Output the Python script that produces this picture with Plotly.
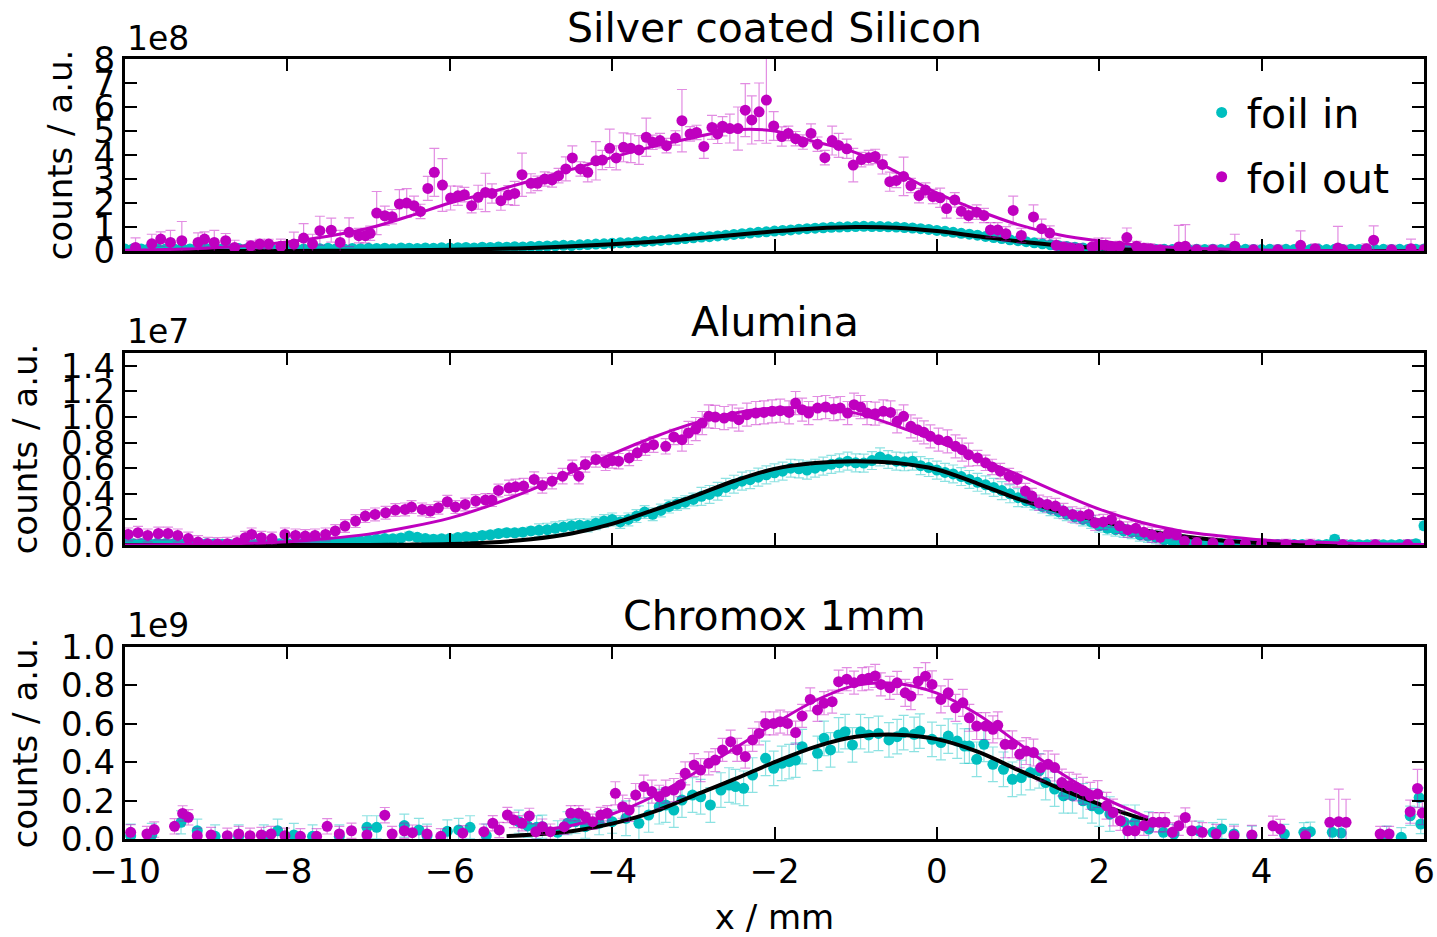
import plotly.graph_objects as go

# ---------------- Panel 1: Silver coated Silicon (units 1e8) ----------------
p1_out_x = [-9.87, -9.67, -9.56, -9.44, -9.3, -9.1, -9.02, -8.9, -8.76, -8.65, -8.45, -8.34, -8.23, -8.08,
            -7.92, -7.8, -7.69, -7.6, -7.46, -7.35, -7.24, -7.12, -7.04, -6.98, -6.9, -6.8, -6.71, -6.62,
            -6.53, -6.44, -6.36, -6.27, -6.19, -6.09, -5.99, -5.9, -5.82, -5.73, -5.65, -5.56, -5.48, -5.37,
            -5.28, -5.2, -5.11, -5.0, -4.92, -4.83, -4.74, -4.66, -4.57, -4.49, -4.39, -4.3, -4.2, -4.12,
            -4.03, -3.95, -3.86, -3.77, -3.67, -3.58, -3.5, -3.41, -3.33, -3.22, -3.14, -3.04, -2.96, -2.87,
            -2.77, -2.7, -2.64, -2.55, -2.45, -2.36, -2.28, -2.19, -2.1, -2.01, -1.91, -1.83, -1.74, -1.65,
            -1.55, -1.47, -1.38, -1.29, -1.21, -1.11, -1.03, -0.93, -0.84, -0.76, -0.67, -0.58, -0.5, -0.41,
            -0.32, -0.22, -0.14, -0.05, 0.04, 0.12, 0.22, 0.3, 0.39, 0.49, 0.58, 0.66, 0.75, 0.85, 0.94,
            1.04, 1.19, 1.29, 1.39, 1.47, 1.56, 1.65, 1.75, 1.91, 1.99, 2.08, 2.15, 2.25, 2.34, 2.46, 2.55,
            2.63, 2.75, 2.98, 3.06, 3.2, 3.4, 3.67, 3.9, 4.2, 4.48, 4.66, 4.94, 5.0, 5.29, 5.38, 5.6, 5.84, 6.0]
p1_out_y = [0.15, 0.3, 0.5, 0.36, 0.43, 0.36, 0.5, 0.36, 0.43, 0.15, 0.22, 0.29, 0.29, 0.2,
            0.29, 0.54, 0.3, 0.85, 0.87, 0.36, 0.78, 0.64, 0.64, 0.74, 1.58, 1.47, 1.43, 1.96,
            2.0, 1.89, 1.65, 2.61, 3.28, 2.75, 2.21, 2.3, 2.35, 1.89, 2.24, 2.44, 2.4, 2.1,
            2.33, 2.4, 3.18, 2.82, 2.82, 3.0, 2.96, 3.14, 3.42, 3.88, 3.42, 3.28, 3.76, 3.79,
            4.28, 3.88, 4.32, 4.28, 4.21, 4.74, 4.53, 4.6, 4.39, 4.71, 5.43, 4.88, 4.94, 4.36,
            5.15, 4.88, 5.2, 5.1, 5.1, 5.87, 5.46, 5.8, 6.29, 5.21, 4.77, 4.9, 4.68, 4.54,
            4.9, 4.45, 3.89, 4.6, 4.4, 4.26, 3.58, 3.81, 3.89, 3.94, 3.61, 2.89, 2.94, 3.11,
            2.73, 2.31, 2.54, 2.27, 2.22, 1.77, 2.13, 1.66, 1.48, 1.62, 1.48, 0.88, 0.88, 0.72, 1.69,
            0.65, 1.42, 0.93, 0.75, 0.24, 0.17, 0.13, 0.1, 0.17, 0.24, 0.24, 0.15, 0.2, 0.56, 0.2, 0.12,
            0.1, 0.05, 0.17, 0.2, 0.05, 0.05, 0.2, 0.05, 0.05, 0.24, 0.1, 0.13, 0.05, 0.1, 0.45, 0.05, 0.1, 0.05]
p1_out_err = [0.4, 0.4, 0.3, 0.5, 0.8, 0.4, 0.3, 0.5, 0.3, 0.3, 0.2, 0.2, 0.2, 0.3,
              0.5, 0.6, 0.4, 0.6, 0.5, 0.5, 0.6, 0.3, 0.3, 0.3, 0.9, 0.4, 0.3, 0.6,
              0.6, 0.4, 0.3, 0.5, 1.0, 1.1, 0.5, 0.4, 0.3, 0.3, 0.5, 0.8, 0.4, 0.4,
              0.4, 0.5, 0.9, 0.4, 0.3, 0.3, 0.3, 0.3, 0.5, 0.5, 0.3, 0.4, 0.8, 0.4,
              0.8, 0.5, 0.6, 0.6, 0.6, 0.8, 0.3, 0.3, 0.3, 0.3, 1.3, 0.3, 0.3, 0.5,
              0.5, 0.4, 0.4, 0.6, 0.9, 1.1, 1.0, 1.2, 1.8, 0.6, 0.4, 0.3, 0.3, 0.3,
              0.4, 0.3, 0.3, 0.6, 0.5, 0.4, 0.7, 0.3, 0.3, 0.3, 0.4, 0.4, 0.3, 0.8,
              0.3, 0.3, 0.3, 0.3, 0.4, 0.4, 0.3, 0.3, 0.3, 0.3, 0.3, 0.3, 0.3, 0.3, 0.6,
              0.3, 0.5, 0.4, 0.3, 0.3, 0.2, 0.2, 0.2, 0.3, 0.3, 0.3, 0.2, 0.2, 0.4, 0.2, 0.2,
              0.2, 0.2, 0.9, 0.9, 0.2, 0.2, 0.5, 0.2, 0.2, 0.6, 0.2, 0.9, 0.2, 0.2, 0.6, 0.2, 0.4, 0.2]

grid_x = [-10.0, -9.9, -9.8, -9.7, -9.6, -9.5, -9.4, -9.3, -9.2, -9.1, -9.0, -8.9, -8.8, -8.7, -8.6, -8.5,
          -8.4, -8.3, -8.2, -8.1, -8.0, -7.9, -7.8, -7.7, -7.6, -7.5, -7.4, -7.3, -7.2, -7.1, -7.0,
          -6.9, -6.8, -6.7, -6.6, -6.5, -6.4, -6.3, -6.2, -6.1, -6.0, -5.9, -5.8, -5.7, -5.6, -5.5,
          -5.4, -5.3, -5.2, -5.1, -5.0, -4.9, -4.8, -4.7, -4.6, -4.5, -4.4, -4.3, -4.2, -4.1, -4.0,
          -3.9, -3.8, -3.7, -3.6, -3.5, -3.4, -3.3, -3.2, -3.1, -3.0, -2.9, -2.8, -2.7, -2.6, -2.5,
          -2.4, -2.3, -2.2, -2.1, -2.0, -1.9, -1.8, -1.7, -1.6, -1.5, -1.4, -1.3, -1.2, -1.1, -1.0,
          -0.9, -0.8, -0.7, -0.6, -0.5, -0.4, -0.3, -0.2, -0.1, 0.0, 0.1, 0.2, 0.3, 0.4, 0.5,
          0.6, 0.7, 0.8, 0.9, 1.0, 1.1, 1.2, 1.3, 1.4, 1.5, 1.6, 1.7, 1.8, 1.9, 2.0,
          2.1, 2.2, 2.3, 2.4, 2.5, 2.6, 2.7, 2.8, 2.9, 3.0, 3.1, 3.2, 3.3, 3.4, 3.5,
          3.6, 3.7, 3.8, 3.9, 4.0, 4.1, 4.2, 4.3, 4.4, 4.5, 4.6, 4.7, 4.8, 4.9, 5.0,
          5.1, 5.2, 5.3, 5.4, 5.5, 5.6, 5.7, 5.8, 5.9, 6.0]
p1_in_y = [0.08, 0.1, 0.09, 0.11, 0.1, 0.08, 0.1, 0.12, 0.09, 0.1, 0.11, 0.08, 0.1, 0.09, 0.11, 0.1,
           0.12, 0.09, 0.1, 0.08, 0.11, 0.1, 0.09, 0.11, 0.1, 0.12, 0.1, 0.09, 0.11, 0.1, 0.12,
           0.11, 0.12, 0.1, 0.13, 0.12, 0.11, 0.13, 0.12, 0.14, 0.13,
           0.14, 0.15, 0.13, 0.16, 0.15, 0.17, 0.16, 0.18, 0.17, 0.19,
           0.2, 0.21, 0.22, 0.24, 0.23, 0.26, 0.27, 0.29, 0.3, 0.32,
           0.34, 0.35, 0.38, 0.4, 0.42, 0.44, 0.47, 0.49, 0.52, 0.55,
           0.58, 0.6, 0.63, 0.66, 0.69, 0.72, 0.75, 0.78, 0.8, 0.83,
           0.86, 0.88, 0.91, 0.93, 0.95, 0.97, 0.99, 1.0, 1.01, 1.02,
           1.03, 1.02, 1.02, 1.01, 1.0, 0.98, 0.96, 0.93, 0.9, 0.86,
           0.82, 0.78, 0.74, 0.7, 0.66, 0.61, 0.56, 0.52, 0.47, 0.43,
           0.39, 0.34, 0.3, 0.26, 0.22, 0.19, 0.16, 0.13, 0.11, 0.1,
           0.09, 0.08, 0.08, 0.07, 0.07, 0.07, 0.06, 0.07, 0.06, 0.07,
           0.06, 0.07, 0.06, 0.07, 0.06, 0.07, 0.06, 0.07, 0.06, 0.06,
           0.07, 0.06, 0.07, 0.06, 0.07, 0.06, 0.07, 0.06, 0.07, 0.06,
           0.07, 0.06, 0.07, 0.06, 0.07, 0.06, 0.07, 0.06, 0.07, 0.08]
p1_in_err = [0.06] * 41 + [0.08] * 30 + [0.12] * 30 + [0.08] * 20 + [0.06] * 40

fit_x = [-10.0, -9.5, -9.0, -8.5, -8.0, -7.5, -7.0, -6.5, -6.0, -5.5, -5.0, -4.5, -4.0, -3.5, -3.0, -2.5,
         -2.0, -1.5, -1.0, -0.5, 0.0, 0.5, 1.0, 1.5, 2.0, 2.5, 3.0, 3.5, 4.0, 4.5, 5.0, 5.5, 6.0]
p1_fit_out = [0.03, 0.06, 0.12, 0.22, 0.38, 0.62, 0.95, 1.45, 2.0, 2.45, 2.93, 3.4, 3.9, 4.35, 4.72, 5.05,
              5.0, 4.55, 4.1, 3.3, 2.42, 1.7, 1.1, 0.68, 0.42, 0.24, 0.14, 0.08, 0.04, 0.02, 0.01, 0.005, 0.002]
p1_fit_in = [0.0, 0.0, 0.0, 0.002, 0.004, 0.008, 0.015, 0.028, 0.05, 0.085, 0.13, 0.2, 0.28, 0.39, 0.52, 0.67,
             0.82, 0.94, 1.0, 0.97, 0.83, 0.62, 0.41, 0.24, 0.12, 0.05, 0.02, 0.007, 0.002, 0.0, 0.0, 0.0, 0.0]

# ---------------- Panel 2: Alumina (units 1e7) ----------------
p2_out_x = [-9.96, -9.84, -9.72, -9.59, -9.47, -9.35, -9.22, -9.1, -8.98, -8.86, -8.74, -8.62, -8.52, -8.44,
            -8.32, -8.19, -8.03, -7.9, -7.78, -7.66, -7.53, -7.41, -7.29, -7.16, -7.04, -6.92, -6.79, -6.67,
            -6.55, -6.47, -6.34, -6.24, -6.14, -6.03, -5.93, -5.81, -5.68, -5.56, -5.48, -5.4, -5.27, -5.19,
            -5.09, -4.96, -4.86, -4.74, -4.61, -4.49, -4.41, -4.33, -4.2, -4.08, -4.0, -3.92, -3.79, -3.69,
            -3.59, -3.49, -3.34, -3.24, -3.14, -3.06, -2.97, -2.89, -2.81, -2.73, -2.62, -2.52, -2.44, -2.34,
            -2.23, -2.13, -2.03, -1.93, -1.82, -1.74, -1.66, -1.58, -1.47, -1.37, -1.27, -1.19, -1.1, -1.02,
            -0.94, -0.86, -0.76, -0.66, -0.57, -0.49, -0.41, -0.32, -0.24, -0.16, -0.08, 0.02, 0.13, 0.23,
            0.31, 0.39, 0.5, 0.6, 0.68, 0.78, 0.89, 0.99, 1.09, 1.17, 1.26, 1.36, 1.46, 1.56, 1.67, 1.77,
            1.87, 1.95, 2.05, 2.15, 2.25, 2.35, 2.45, 2.55, 2.65, 2.75, 2.85, 2.95, 3.05, 3.2, 3.4, 3.6,
            3.8, 4.0, 4.3, 4.6, 5.0, 5.4, 5.8]
p2_out_y = [0.083, 0.096, 0.075, 0.09, 0.09, 0.075, 0.05, 0.023, 0.01, 0.008, 0.01, 0.02, 0.057, 0.083,
            0.057, 0.05, 0.083, 0.075, 0.07, 0.075, 0.083, 0.11, 0.148, 0.187, 0.226, 0.239, 0.252, 0.273,
            0.278, 0.296, 0.278, 0.265, 0.291, 0.338, 0.296, 0.317, 0.343, 0.351, 0.351, 0.426, 0.447, 0.455,
            0.46, 0.512, 0.465, 0.499, 0.538, 0.603, 0.538, 0.629, 0.668, 0.642, 0.66, 0.655, 0.68, 0.72,
            0.76, 0.784, 0.771, 0.844, 0.823, 0.875, 0.906, 0.953, 1.005, 1.0, 0.992, 1.005, 0.979, 1.018,
            1.031, 1.036, 1.044, 1.049, 1.036, 1.109, 1.057, 1.031, 1.07, 1.078, 1.062, 1.07, 1.031, 1.096,
            1.078, 1.031, 1.026, 1.044, 1.036, 0.966, 1.005, 0.927, 0.901, 0.88, 0.849, 0.823, 0.81, 0.771,
            0.745, 0.706, 0.68, 0.642, 0.61, 0.577, 0.538, 0.512, 0.421, 0.382, 0.33, 0.317, 0.304, 0.265, 0.239, 0.226,
            0.239, 0.174, 0.18, 0.2, 0.15, 0.12, 0.13, 0.1, 0.08, 0.06, 0.09, 0.08, 0.03, 0.02, 0.015, 0.01,
            0.01, 0.008, 0.005, 0.005, 0.003, 0.003, 0.003]
p2_out_err = [0.05] * 40 + [0.06] * 20 + [0.09] * 40 + [0.06] * 24 + [0.04] * 15

p2_in_y = [0.015, 0.01, 0.012, 0.01, 0.015, 0.012, 0.01, 0.008, 0.01, 0.012, 0.01, 0.008, 0.006, 0.005, 0.005, 0.006,
           0.005, 0.006, 0.008, 0.01, 0.012, 0.01, 0.015, 0.02, 0.018, 0.025, 0.02, 0.028, 0.03, 0.032, 0.04,
           0.045, 0.05, 0.048, 0.055, 0.07, 0.06, 0.05, 0.045, 0.048, 0.05,
           0.058, 0.065, 0.06, 0.075, 0.08, 0.09, 0.096, 0.095, 0.1, 0.11,
           0.115, 0.12, 0.13, 0.14, 0.15, 0.155, 0.153, 0.17, 0.187, 0.2,
           0.18, 0.2, 0.226, 0.257, 0.24, 0.27, 0.3, 0.32, 0.335, 0.356,
           0.38, 0.395, 0.42, 0.45, 0.475, 0.499, 0.51, 0.53, 0.548, 0.564,
           0.577, 0.6, 0.595, 0.585, 0.6, 0.616, 0.63, 0.642, 0.655, 0.642,
           0.64, 0.66, 0.688, 0.668, 0.655, 0.65, 0.655, 0.62, 0.605, 0.585,
           0.567, 0.555, 0.535, 0.512, 0.49, 0.47, 0.45, 0.425, 0.4, 0.37,
           0.345, 0.325, 0.3, 0.28, 0.26, 0.24, 0.22, 0.2, 0.18, 0.15,
           0.13, 0.12, 0.11, 0.1, 0.08, 0.07, 0.06, 0.04, 0.03, 0.03,
           0.02, 0.02, 0.015, 0.015, 0.012, 0.01, 0.01, 0.008, 0.008, 0.006,
           0.005, 0.005, 0.004, 0.004, 0.004, 0.003, 0.003, 0.004, 0.045, 0.003,
           0.003, 0.003, 0.002, 0.003, 0.002, 0.003, 0.004, 0.005, 0.01, 0.15]
p2_in_err = [0.03] * 51 + [0.05] * 20 + [0.07] * 40 + [0.05] * 20 + [0.03] * 30

p2_fit_out = [0.001, 0.003, 0.006, 0.013, 0.025, 0.05, 0.085, 0.14, 0.21, 0.31, 0.43, 0.57, 0.71, 0.84, 0.95, 1.03,
              1.07, 1.07, 1.03, 0.93, 0.81, 0.68, 0.55, 0.41, 0.28, 0.18, 0.11, 0.07, 0.04, 0.025, 0.015, 0.008, 0.005]
p2_fit_in = [0.0, 0.0, 0.0, 0.0, 0.0, 0.0, 0.001, 0.003, 0.008, 0.02, 0.045, 0.09, 0.165, 0.27, 0.38, 0.5,
             0.595, 0.64, 0.655, 0.64, 0.59, 0.48, 0.36, 0.265, 0.19, 0.12, 0.07, 0.035, 0.015, 0.006, 0.002, 0.001, 0.0]

# ---------------- Panel 3: Chromox 1mm (units 1e9) ----------------
p3_out_x = [-9.93, -9.73, -9.64, -9.39, -9.29, -9.22, -9.11, -8.94, -8.74, -8.6, -8.46, -8.32, -8.2, -8.03,
            -7.84, -7.64, -7.51, -7.36, -7.21, -7.02, -6.8, -6.71, -6.56, -6.46, -6.28, -6.11, -5.84, -5.58,
            -5.47, -5.39, -5.29, -5.21, -5.11, -5.02, -4.94, -4.86, -4.76, -4.59, -4.51, -4.41, -4.33, -4.24,
            -4.14, -4.06, -3.96, -3.87, -3.79, -3.71, -3.61, -3.51, -3.42, -3.34, -3.24, -3.16, -3.1, -2.99,
            -2.91, -2.81, -2.73, -2.64, -2.54, -2.46, -2.36, -2.27, -2.19, -2.11, -2.01, -1.93, -1.84, -1.74,
            -1.66, -1.56, -1.47, -1.39, -1.29, -1.21, -1.11, -1.02, -0.92, -0.84, -0.76, -0.69, -0.58, -0.49,
            -0.39, -0.32, -0.23, -0.14, -0.06, 0.05, 0.14, 0.23, 0.32, 0.4, 0.49, 0.6, 0.69, 0.75, 0.84,
            0.93, 1.02, 1.1, 1.19, 1.28, 1.37, 1.45, 1.54, 1.63, 1.72, 1.8, 1.89, 1.98, 2.09, 2.17, 2.26,
            2.35, 2.44, 2.55, 2.66, 2.74, 2.81, 2.9, 2.98, 3.06, 3.14, 3.27, 3.44, 3.66, 3.88, 4.14, 4.23,
            4.54, 4.84, 4.95, 5.04, 5.46, 5.57, 5.83, 5.92, 5.98]
p3_out_y = [0.035, 0.026, 0.049, 0.066, 0.133, 0.113, 0.017, 0.021, 0.017, 0.026, 0.017, 0.021, 0.026, 0.017,
            0.014, 0.014, 0.066, 0.026, 0.043, 0.021, 0.124, 0.026, 0.043, 0.033, 0.026, 0.014, 0.03, 0.038,
            0.082, 0.047, 0.125, 0.099, 0.082, 0.12, 0.038, 0.064, 0.038, 0.064, 0.134, 0.134, 0.116, 0.09,
            0.125, 0.134, 0.238, 0.168, 0.151, 0.229, 0.273, 0.247, 0.22, 0.247, 0.255, 0.281, 0.342, 0.385,
            0.359, 0.394, 0.411, 0.464, 0.507, 0.464, 0.429, 0.516, 0.55, 0.602, 0.602, 0.611, 0.602, 0.554,
            0.641, 0.727, 0.672, 0.707, 0.715, 0.819, 0.832, 0.814, 0.832, 0.837, 0.849, 0.805, 0.787, 0.813,
            0.761, 0.744, 0.822, 0.848, 0.805, 0.727, 0.761, 0.683, 0.709, 0.631, 0.588, 0.588, 0.571, 0.592, 0.493,
            0.493, 0.441, 0.458, 0.45, 0.372, 0.389, 0.372, 0.294, 0.277, 0.268, 0.251, 0.225, 0.234, 0.173, 0.138, 0.095,
            0.043, 0.043, 0.069, 0.087, 0.087, 0.087, 0.035, 0.069, 0.112, 0.043, 0.035, 0.026, 0.017, 0.021, 0.069, 0.052,
            0.017, 0.087, 0.09, 0.087, 0.026, 0.026, 0.142, 0.263, 0.135]
p3_out_err = ([0.04] * 44 + [0.06] * 40 + [0.07] * 30 + [0.05] * 17
              + [0.03, 0.12, 0.17, 0.12, 0.04, 0.04, 0.06, 0.1, 0.06])

p3_in_x = [-9.93, -9.67, -9.31, -9.11, -8.89, -8.6, -8.29, -8.12, -7.92, -7.69, -7.36, -7.02, -6.9, -6.56,
           -6.38, -6.28, -6.03, -5.89, -5.75, -5.55, -5.15, -5.04, -4.93, -4.86, -4.67, -4.55, -4.45, -4.33,
           -4.16, -4.0, -3.83, -3.67, -3.55, -3.42, -3.34, -3.24, -3.14, -3.01, -2.91, -2.79, -2.66, -2.56,
           -2.48, -2.38, -2.27, -2.11, -2.01, -1.91, -1.82, -1.74, -1.66, -1.47, -1.39, -1.31, -1.21, -1.13,
           -1.04, -0.94, -0.84, -0.72, -0.59, -0.49, -0.41, -0.28, -0.21, -0.06, 0.05, 0.14, 0.25, 0.34,
           0.4, 0.49, 0.58, 0.69, 0.82, 0.93, 1.04, 1.15, 1.26, 1.34, 1.45, 1.56, 1.67, 1.8, 1.91, 2.0,
           2.13, 2.31, 2.44, 2.61, 2.79, 2.92, 3.23, 3.4, 3.51, 3.66, 3.88, 4.28, 4.52, 4.6, 4.87, 4.98,
           5.54, 5.72, 5.83, 5.94, 5.96]
p3_in_y = [0.017, 0.021, 0.087, 0.043, 0.014, 0.014, 0.014, 0.043, 0.021, 0.014, 0.014, 0.061, 0.061, 0.07,
           0.047, 0.017, 0.04, 0.047, 0.061, 0.017, 0.09, 0.068, 0.061, 0.064, 0.035, 0.082, 0.09, 0.064,
           0.082, 0.09, 0.108, 0.082, 0.125, 0.168, 0.177, 0.151, 0.203, 0.229, 0.22, 0.177, 0.255, 0.281,
           0.273, 0.264, 0.333, 0.42, 0.368, 0.394, 0.403, 0.411, 0.481, 0.446, 0.524, 0.464, 0.542, 0.559,
           0.49, 0.559, 0.542, 0.55, 0.516, 0.533, 0.554, 0.545, 0.562, 0.519, 0.502, 0.536, 0.51, 0.484,
           0.484, 0.415, 0.493, 0.389, 0.363, 0.311, 0.32, 0.346, 0.355, 0.294, 0.26, 0.225, 0.225, 0.199, 0.173, 0.156,
           0.13, 0.087, 0.087, 0.052, 0.035, 0.026, 0.043, 0.035, 0.052, 0.026, 0.017, 0.026, 0.035, 0.038, 0.035, 0.031,
           0.017, 0.009, 0.121, 0.216, 0.078]
p3_in_err = [0.06] * 30 + [0.09] * 60 + [0.05] * 17

p3_fit_in_x = [-5.3, -5.0, -4.5, -4.0, -3.5, -3.0, -2.5, -2.0, -1.5, -1.0, -0.5, 0.0, 0.5, 1.0, 1.5, 2.0, 2.5, 2.6]
p3_fit_in = [0.015, 0.022, 0.04, 0.08, 0.14, 0.225, 0.31, 0.4, 0.48, 0.532, 0.543, 0.52, 0.455, 0.36, 0.265, 0.182, 0.11, 0.1]
p3_fit_out_x = [-5.0, -4.5, -4.0, -3.5, -3.0, -2.5, -2.0, -1.5, -1.0, -0.5, 0.0, 0.5, 1.0, 1.5, 2.0, 2.5, 2.6]
p3_fit_out = [0.04, 0.07, 0.13, 0.22, 0.34, 0.47, 0.6, 0.72, 0.8, 0.81, 0.76, 0.65, 0.5, 0.35, 0.225, 0.13, 0.112]

titles = ["Silver coated Silicon", "Alumina", "Chromox 1mm"]
offsets = ["1e8", "1e7", "1e9"]
x_ticks = [-10, -8, -6, -4, -2, 0, 2, 4, 6]

# ---------------- styling ----------------
FONT = "DejaVu Sans"
MAG = "rgb(191,0,191)"
CYA = "rgb(0,191,191)"
MAG_ERR = "rgba(191,0,191,0.45)"
CYA_ERR = "rgba(0,191,191,0.45)"
MSIZE = 11

fig = go.Figure()

panels = [
    dict(ax=("x", "y"), out=(p1_out_x, p1_out_y, p1_out_err), inn=(grid_x, p1_in_y, p1_in_err),
         fin=(fit_x, p1_fit_in), fout=(fit_x, p1_fit_out)),
    dict(ax=("x2", "y2"), out=(p2_out_x, p2_out_y, p2_out_err), inn=(grid_x, p2_in_y, p2_in_err),
         fin=(fit_x, p2_fit_in), fout=(fit_x, p2_fit_out)),
    dict(ax=("x3", "y3"), out=(p3_out_x, p3_out_y, p3_out_err), inn=(p3_in_x, p3_in_y, p3_in_err),
         fin=(p3_fit_in_x, p3_fit_in), fout=(p3_fit_out_x, p3_fit_out)),
]

for i, p in enumerate(panels):
    xa, ya = p["ax"]
    show = (i == 0)
    fig.add_trace(go.Scatter(x=p["inn"][0], y=p["inn"][1], mode="markers", name="foil in",
                             legendgroup="in", showlegend=show,
                             marker=dict(color=CYA, size=MSIZE),
                             error_y=dict(type="data", array=p["inn"][2], color=CYA_ERR, thickness=1.2, width=5),
                             xaxis=xa, yaxis=ya))
    fig.add_trace(go.Scatter(x=p["fin"][0], y=p["fin"][1], mode="lines", showlegend=False,
                             line=dict(color="black", width=4, shape="spline"),
                             xaxis=xa, yaxis=ya))
    fig.add_trace(go.Scatter(x=p["out"][0], y=p["out"][1], mode="markers", name="foil out",
                             legendgroup="out", showlegend=show,
                             marker=dict(color=MAG, size=MSIZE),
                             error_y=dict(type="data", array=p["out"][2], color=MAG_ERR, thickness=1.2, width=5),
                             xaxis=xa, yaxis=ya))
    fig.add_trace(go.Scatter(x=p["fout"][0], y=p["fout"][1], mode="lines", showlegend=False,
                             line=dict(color=MAG, width=3, shape="spline"),
                             xaxis=xa, yaxis=ya))

axis_common = dict(showline=True, linecolor="black", linewidth=3, mirror="ticks", ticks="inside",
                   ticklen=12, tickwidth=2, tickcolor="black", showgrid=False, zeroline=False,
                   automargin=False,
                   tickfont=dict(family=FONT, size=34, color="black"))

domains = [[0.7538, 1.0], [0.3769, 0.6231], [0.0, 0.2462]]
yranges = [[0, 8], [0, 1.5], [0, 1.0]]
ydticks = [1, 0.2, 0.2]
yformats = ["d", ".1f", ".1f"]
ystandoff = [11, 14, 14]

layout = dict(
    width=1437, height=937,
    margin=dict(l=125, r=13, t=59, b=98),
    plot_bgcolor="white", paper_bgcolor="white",
    font=dict(family=FONT, size=34, color="black"),
    legend=dict(x=0.825, y=0.89, xanchor="left", yanchor="middle", bgcolor="rgba(0,0,0,0)",
                font=dict(family=FONT, size=41, color="black"), itemwidth=40, tracegroupgap=8),
    annotations=[],
)

for i in range(3):
    xk = "xaxis" if i == 0 else f"xaxis{i+1}"
    yk = "yaxis" if i == 0 else f"yaxis{i+1}"
    ya = "y" if i == 0 else f"y{i+1}"
    xa = "x" if i == 0 else f"x{i+1}"
    xd = dict(axis_common, domain=[0, 1], range=[-10, 6], tickmode="array", tickvals=x_ticks,
              anchor=ya, showticklabels=(i == 2))
    if i < 2:
        xd["matches"] = "x3"
    if i == 2:
        xd["title"] = dict(text="x / mm", font=dict(family=FONT, size=34), standoff=18)
    layout[xk] = xd
    layout[yk] = dict(axis_common, domain=domains[i], range=yranges[i], tickmode="linear", tick0=0,
                      dtick=ydticks[i], tickformat=yformats[i], anchor=xa,
                      title=dict(text="counts / a.u.", font=dict(family=FONT, size=34), standoff=ystandoff[i]))
    layout["annotations"].append(dict(text=titles[i], xref="paper", x=0.5, yref=f"{ya} domain", y=1,
                                      xanchor="center", yanchor="middle", yshift=31, showarrow=False,
                                      font=dict(family=FONT, size=41, color="black")))
    layout["annotations"].append(dict(text=offsets[i], xref="paper", x=0, yref=f"{ya} domain", y=1,
                                      xanchor="left", yanchor="middle", yshift=21, showarrow=False,
                                      font=dict(family=FONT, size=33, color="black")))

fig.update_layout(**layout)
# remove the default page margin so the figure sits at the window origin without scrollbars
fig.write_html("out.html", config={"displayModeBar": False},
               post_script="document.body.style.margin='0';document.body.style.overflow='hidden';")
